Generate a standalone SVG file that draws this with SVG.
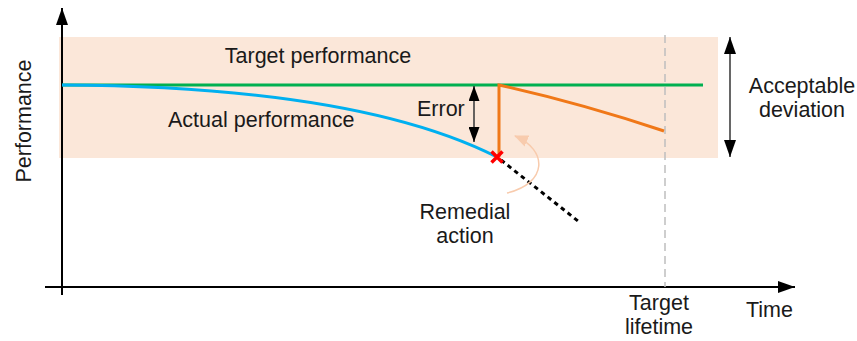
<svg xmlns="http://www.w3.org/2000/svg" width="857" height="341" viewBox="0 0 857 341">
<defs>
<style>
text{font-family:"Liberation Sans",Arial,sans-serif;font-size:21.5px;fill:#1a1a1a}
.mid{text-anchor:middle}
.ax{stroke:#000;stroke-width:2;fill:none}
.dbl{stroke:#404040;stroke-width:1.6;fill:none}
</style>
<marker id="arr" viewBox="0 0 17 12" refX="17" refY="6" markerWidth="17" markerHeight="12" markerUnits="userSpaceOnUse" orient="auto-start-reverse">
<path d="M0,0 L17,6 L0,12 Z" fill="#000"/>
</marker>
<marker id="arrs" viewBox="0 0 15 11" refX="15" refY="5.5" markerWidth="15" markerHeight="11" markerUnits="userSpaceOnUse" orient="auto-start-reverse">
<path d="M0,0 L15,5.5 L0,11 Z" fill="#000"/>
</marker>
<marker id="arro" viewBox="0 0 14 12" refX="13" refY="6" markerWidth="14" markerHeight="12" markerUnits="userSpaceOnUse" orient="auto">
<path d="M0,0 L14,6 L0,12 Z" fill="#F8CBAD"/>
</marker>
</defs>
<g id="band">
<rect x="59" y="37" width="659" height="121" fill="#FBE7D9"/>
</g>
<g id="axes">
<line class="ax" x1="62" y1="295" x2="62" y2="8" marker-end="url(#arr)"/>
<line class="ax" x1="45" y1="287" x2="795" y2="287" marker-end="url(#arr)"/>
<line x1="665" y1="35" x2="665" y2="287" stroke="#BFBFBF" stroke-width="1.5" stroke-dasharray="8,5"/>
</g>
<g id="connectors">
<line x1="62" y1="85" x2="703" y2="85" stroke="#00B050" stroke-width="3"/>
<path d="M62,85 C250,86 400,108 497,157" fill="none" stroke="#00B0F0" stroke-width="3"/>
<path d="M499,157 L499,85 Q580,103 664,131" fill="none" stroke="#F07818" stroke-width="3"/>
<line x1="501" y1="160" x2="578" y2="221" stroke="#000" stroke-width="3" stroke-dasharray="4.5,4"/>
<path d="M507,193 C548,183 548,150 515,136" fill="none" stroke="#F8CBAD" stroke-width="1.5" marker-end="url(#arro)"/>
<line class="dbl" x1="474" y1="86" x2="474" y2="142" marker-start="url(#arrs)" marker-end="url(#arrs)"/>
<line class="dbl" x1="730" y1="37" x2="730" y2="157" marker-start="url(#arr)" marker-end="url(#arr)"/>
<path d="M491.5,151.5 L502.5,162.5 M502.5,151.5 L491.5,162.5" stroke="#FF0000" stroke-width="3.5"/>
</g>
<g id="label-target"><text class="mid" x="318" y="63">Target performance</text></g>
<g id="label-actual"><text x="168" y="127">Actual performance</text></g>
<g id="label-error"><text x="417" y="116">Error</text></g>
<g id="label-remedial"><text class="mid" x="465" y="219">Remedial</text><text class="mid" x="465" y="243">action</text></g>
<g id="label-deviation"><text class="mid" x="802" y="93">Acceptable</text><text class="mid" x="802" y="117">deviation</text></g>
<g id="label-lifetime"><text class="mid" x="659" y="310">Target</text><text class="mid" x="659" y="334">lifetime</text></g>
<g id="label-time"><text x="746" y="317">Time</text></g>
<g id="label-performance"><text class="mid" transform="translate(31,121) rotate(-90)">Performance</text></g>
</svg>
